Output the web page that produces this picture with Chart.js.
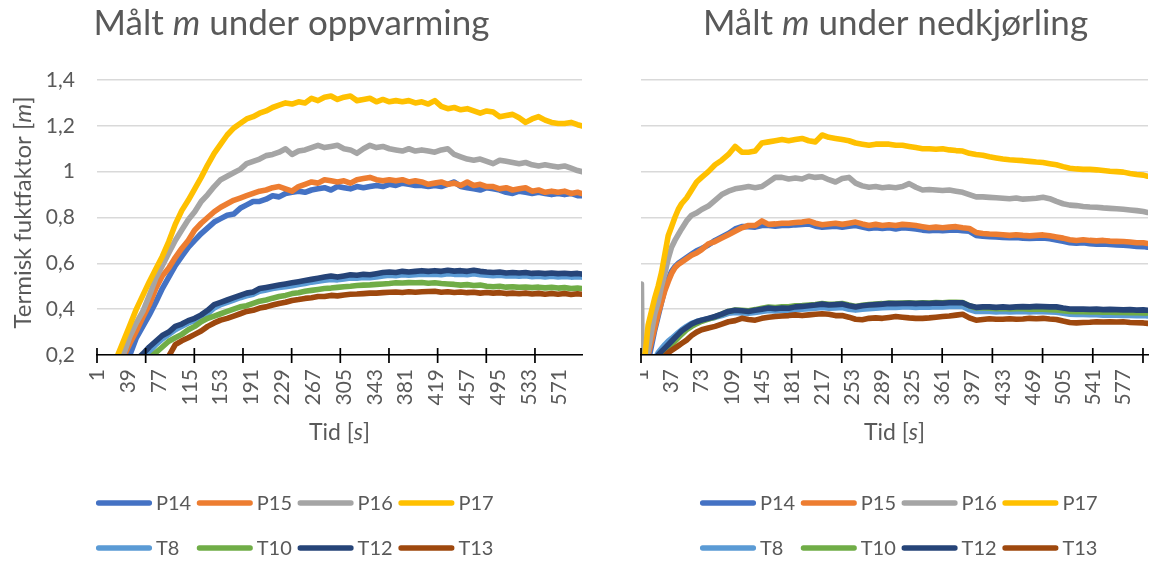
<!DOCTYPE html>
<html>
<head>
<meta charset="utf-8">
<script src="https://cdn.jsdelivr.net/npm/chart.js@4/dist/chart.umd.min.js"></script>
<style>
  html, body { margin: 0; padding: 0; background: #ffffff; }
  body { width: 1151px; height: 561px; position: relative; overflow: hidden; }
  .panel { position: absolute; top: 0; height: 561px; }
  #heatPanel { left: 0; width: 583px; }
  #coolPanel { left: 640px; width: 511px; }
  canvas { display: block; }
</style>
</head>
<body>
<div class="panel" id="heatPanel"><canvas id="heatChart" width="583" height="561"></canvas></div>
<div class="panel" id="coolPanel"><canvas id="coolChart" width="511" height="561"></canvas></div>
<script>
// ---- Series names and colours ----
const seriesNames = ['P14', 'P15', 'P16', 'P17', 'T8', 'T10', 'T12', 'T13'];
const seriesColors = ['#4472C4', '#ED7D31', '#A5A5A5', '#FFC000', '#5B9BD5', '#70AD47', '#264478', '#9E480E'];

// ---- Y axis ----
const yTickValues = [0.2, 0.4, 0.6, 0.8, 1.0, 1.2, 1.4];
const yTickLabels = ['0,2', '0,4', '0,6', '0,8', '1', '1,2', '1,4'];

// ---- Heating: time [s] samples and measured m ----
const heatCount = 598;
const heatXTickLabels = [1, 39, 77, 115, 153, 191, 229, 267, 305, 343, 381, 419, 457, 495, 533, 571];
const heatTickMarks = [0.5, 60.5, 120.5, 180.5, 240.5, 300.5, 360.5, 420.5, 480.5, 540.5];
const heatTime = [
  1, 9, 17, 25, 33, 41, 49, 57, 65, 73,
  81, 89, 97, 105, 113, 121, 129, 137, 145, 153,
  161, 169, 177, 185, 193, 201, 209, 217, 225, 233,
  241, 249, 257, 265, 273, 281, 289, 297, 305, 313,
  321, 329, 337, 345, 353, 361, 369, 377, 385, 393,
  401, 409, 417, 425, 433, 441, 449, 457, 465, 473,
  481, 489, 497, 505, 513, 521, 529, 537, 545, 553,
  561, 569, 577, 585, 593, 598
];
const heatP14 = [
  -0.06, -0.02, 0.03, 0.09, 0.14, 0.20, 0.275, 0.325, 0.375, 0.43,
  0.49, 0.54, 0.59, 0.63, 0.67, 0.70, 0.73, 0.755, 0.78, 0.795,
  0.81, 0.815, 0.84, 0.855, 0.87, 0.87, 0.88, 0.895, 0.89, 0.905,
  0.91, 0.915, 0.91, 0.92, 0.925, 0.93, 0.92, 0.935, 0.93, 0.925,
  0.935, 0.93, 0.935, 0.94, 0.935, 0.945, 0.94, 0.95, 0.945, 0.94,
  0.94, 0.935, 0.94, 0.935, 0.945, 0.955, 0.935, 0.93, 0.925, 0.92,
  0.93, 0.925, 0.92, 0.91, 0.905, 0.915, 0.91, 0.905, 0.91, 0.905,
  0.9, 0.905, 0.9, 0.905, 0.895, 0.895
];
const heatP15 = [
  -0.02, 0.02, 0.07, 0.13, 0.19, 0.25, 0.305, 0.365, 0.42, 0.49,
  0.545, 0.58, 0.625, 0.665, 0.70, 0.745, 0.775, 0.80, 0.825, 0.845,
  0.86, 0.875, 0.885, 0.895, 0.905, 0.915, 0.92, 0.93, 0.935, 0.925,
  0.915, 0.935, 0.945, 0.955, 0.95, 0.965, 0.96, 0.955, 0.96, 0.95,
  0.965, 0.97, 0.975, 0.965, 0.96, 0.965, 0.96, 0.965, 0.955, 0.96,
  0.955, 0.945, 0.95, 0.955, 0.945, 0.95, 0.94, 0.955, 0.94, 0.945,
  0.935, 0.935, 0.925, 0.93, 0.92, 0.925, 0.93, 0.915, 0.92, 0.91,
  0.915, 0.91, 0.915, 0.905, 0.91, 0.905
];
const heatP16 = [
  0.0, 0.03, 0.08, 0.14, 0.20, 0.28, 0.34, 0.39, 0.46, 0.535,
  0.59, 0.645, 0.70, 0.745, 0.79, 0.825, 0.87, 0.90, 0.935, 0.965,
  0.98, 0.995, 1.01, 1.035, 1.045, 1.055, 1.07, 1.075, 1.085, 1.10,
  1.075, 1.09, 1.095, 1.105, 1.115, 1.105, 1.11, 1.115, 1.10, 1.095,
  1.08, 1.10, 1.115, 1.105, 1.11, 1.10, 1.095, 1.09, 1.10, 1.09,
  1.095, 1.09, 1.085, 1.095, 1.10, 1.075, 1.065, 1.055, 1.05, 1.055,
  1.045, 1.035, 1.05, 1.045, 1.04, 1.035, 1.04, 1.03, 1.025, 1.03,
  1.025, 1.02, 1.025, 1.015, 1.005, 1.0
];
const heatP17 = [
  0.02, 0.06, 0.12, 0.19, 0.26, 0.33, 0.40, 0.46, 0.52, 0.575,
  0.63, 0.695, 0.77, 0.83, 0.875, 0.925, 0.975, 1.03, 1.08, 1.12,
  1.16, 1.19, 1.21, 1.23, 1.24, 1.255, 1.265, 1.28, 1.29, 1.30,
  1.295, 1.305, 1.30, 1.32, 1.31, 1.325, 1.33, 1.315, 1.325, 1.33,
  1.31, 1.315, 1.32, 1.305, 1.315, 1.305, 1.31, 1.305, 1.31, 1.30,
  1.305, 1.295, 1.31, 1.285, 1.275, 1.28, 1.27, 1.275, 1.265, 1.255,
  1.265, 1.26, 1.24, 1.245, 1.25, 1.235, 1.215, 1.23, 1.24, 1.225,
  1.215, 1.21, 1.21, 1.215, 1.205, 1.20
];
const heatT8 = [
  -0.02, 0.01, 0.04, 0.07, 0.10, 0.13, 0.16, 0.19, 0.215, 0.245,
  0.27, 0.29, 0.31, 0.325, 0.34, 0.35, 0.365, 0.38, 0.405, 0.42,
  0.43, 0.44, 0.45, 0.458, 0.465, 0.478, 0.484, 0.49, 0.495, 0.498,
  0.502, 0.508, 0.512, 0.518, 0.522, 0.526, 0.53, 0.528, 0.532, 0.536,
  0.535, 0.538, 0.537, 0.54, 0.545, 0.548, 0.546, 0.55, 0.548, 0.55,
  0.553, 0.551, 0.553, 0.55, 0.555, 0.552, 0.553, 0.55, 0.555, 0.55,
  0.548, 0.546, 0.548, 0.545, 0.546, 0.544, 0.546, 0.542, 0.544, 0.541,
  0.544, 0.541, 0.543, 0.54, 0.542, 0.54
];
const heatT10 = [
  -0.05, -0.02, 0.01, 0.04, 0.07, 0.10, 0.13, 0.16, 0.185, 0.21,
  0.235, 0.26, 0.275, 0.29, 0.31, 0.325, 0.345, 0.36, 0.37, 0.38,
  0.39, 0.40, 0.41, 0.415, 0.425, 0.435, 0.44, 0.448, 0.455, 0.46,
  0.468, 0.472, 0.478, 0.482, 0.486, 0.49, 0.492, 0.495, 0.498, 0.5,
  0.503, 0.505, 0.506, 0.508, 0.51, 0.512, 0.515, 0.514, 0.516, 0.515,
  0.516, 0.513, 0.515, 0.512, 0.51, 0.508, 0.505, 0.507, 0.503, 0.505,
  0.5, 0.498, 0.5, 0.496, 0.498, 0.495, 0.497, 0.494, 0.496, 0.493,
  0.495, 0.492, 0.494, 0.49, 0.492, 0.49
];
const heatT12 = [
  0.0, 0.03, 0.06, 0.09, 0.12, 0.15, 0.18, 0.205, 0.235, 0.26,
  0.285, 0.30, 0.325, 0.335, 0.35, 0.36, 0.375, 0.395, 0.42, 0.43,
  0.44, 0.45, 0.46, 0.47, 0.475, 0.49, 0.495, 0.50, 0.505, 0.51,
  0.515, 0.52, 0.525, 0.53, 0.535, 0.54, 0.545, 0.54, 0.545, 0.55,
  0.548, 0.552, 0.55, 0.555, 0.56, 0.562, 0.56, 0.565, 0.562, 0.565,
  0.568, 0.565, 0.568, 0.565, 0.57, 0.566, 0.568, 0.565, 0.57, 0.565,
  0.562, 0.56, 0.562, 0.558, 0.56, 0.558, 0.56, 0.556, 0.558, 0.555,
  0.558, 0.555, 0.557, 0.554, 0.556, 0.553
];
const heatT13 = [
  -0.1, -0.07, -0.04, -0.01, 0.02, 0.05, 0.08, 0.11, 0.13, 0.15,
  0.17, 0.195, 0.245, 0.262, 0.275, 0.29, 0.305, 0.325, 0.34, 0.352,
  0.36, 0.37, 0.38, 0.39, 0.395, 0.405, 0.41, 0.418, 0.425, 0.43,
  0.438, 0.442, 0.447, 0.45, 0.455, 0.455, 0.46, 0.458, 0.462, 0.465,
  0.466, 0.468, 0.47, 0.47, 0.472, 0.474, 0.475, 0.473, 0.476, 0.474,
  0.476, 0.477, 0.478, 0.474, 0.476, 0.473, 0.475, 0.472, 0.474, 0.47,
  0.473, 0.47, 0.472, 0.468, 0.47, 0.467, 0.47, 0.466, 0.469, 0.465,
  0.468, 0.465, 0.468, 0.464, 0.467, 0.465
];

// ---- Cooling: time [s] samples and measured m ----
const coolCount = 606;
const coolXTickLabels = [1, 37, 73, 109, 145, 181, 217, 253, 289, 325, 361, 397, 433, 469, 505, 541, 577];
const coolTickMarks = [0.5, 60.5, 120.5, 180.5, 240.5, 300.5, 360.5, 420.5, 480.5, 540.5, 600.5];
const coolTime = [
  1, 2, 5, 9, 13, 17, 21, 25, 29, 33,
  37, 41, 45, 49, 55, 61, 67, 73, 81, 89,
  97, 105, 113, 121, 129, 137, 145, 153, 161, 169,
  177, 185, 193, 201, 209, 217, 225, 233, 241, 249,
  257, 265, 273, 281, 289, 297, 305, 313, 321, 329,
  337, 345, 353, 361, 369, 377, 385, 393, 401, 409,
  417, 425, 433, 441, 449, 457, 465, 473, 481, 489,
  497, 505, 513, 521, 529, 537, 545, 553, 561, 569,
  577, 585, 593, 601, 606
];
const coolP14 = [
  0.05, 0.05, 0.1, 0.17, 0.24, 0.31, 0.37, 0.43, 0.49, 0.53,
  0.565, 0.585, 0.60, 0.61, 0.625, 0.64, 0.655, 0.665, 0.68, 0.70,
  0.715, 0.73, 0.75, 0.76, 0.76, 0.758, 0.765, 0.765, 0.762, 0.765,
  0.765, 0.768, 0.77, 0.772, 0.762, 0.758, 0.76, 0.762, 0.758, 0.762,
  0.765, 0.758, 0.752, 0.755, 0.752, 0.755, 0.75, 0.755, 0.753, 0.75,
  0.745, 0.742, 0.745, 0.742, 0.745, 0.746, 0.742, 0.74, 0.722, 0.718,
  0.716, 0.715, 0.713, 0.712, 0.713, 0.71, 0.709, 0.71, 0.711, 0.707,
  0.702, 0.696, 0.69, 0.688, 0.69, 0.686, 0.684, 0.685, 0.682, 0.68,
  0.679, 0.677, 0.674, 0.673, 0.67
];
const coolP15 = [
  0.05, 0.05, 0.12, 0.2, 0.26, 0.32, 0.38, 0.43, 0.48, 0.52,
  0.555, 0.58, 0.595, 0.605, 0.62, 0.635, 0.645, 0.66, 0.685, 0.695,
  0.71, 0.725, 0.74, 0.755, 0.765, 0.765, 0.785, 0.77, 0.772, 0.775,
  0.775, 0.778, 0.78, 0.785, 0.775, 0.768, 0.772, 0.775, 0.77, 0.775,
  0.78, 0.772, 0.765, 0.77, 0.765, 0.768, 0.765, 0.77, 0.768, 0.765,
  0.76, 0.755, 0.758, 0.755, 0.758, 0.76, 0.755, 0.752, 0.735, 0.73,
  0.728, 0.727, 0.725, 0.722, 0.725, 0.722, 0.72, 0.722, 0.724, 0.72,
  0.715, 0.71, 0.703, 0.7, 0.703, 0.7, 0.698, 0.7, 0.697, 0.696,
  0.695, 0.693, 0.69, 0.69, 0.687
];
const coolP16 = [
  0.51, 0.1, 0.12, 0.22, 0.30, 0.38, 0.43, 0.50, 0.555, 0.62,
  0.67, 0.70, 0.725, 0.75, 0.785, 0.81, 0.82, 0.835, 0.85, 0.875,
  0.90, 0.915, 0.925, 0.93, 0.935, 0.93, 0.935, 0.955, 0.975, 0.975,
  0.968, 0.972, 0.968, 0.98, 0.975, 0.978, 0.965, 0.955, 0.97, 0.975,
  0.95, 0.938, 0.932, 0.935, 0.93, 0.933, 0.93, 0.935, 0.948, 0.932,
  0.92, 0.922, 0.92, 0.918, 0.92, 0.915, 0.91, 0.90, 0.89, 0.89,
  0.888, 0.886, 0.884, 0.882, 0.885, 0.88, 0.882, 0.884, 0.888, 0.882,
  0.87, 0.86, 0.854, 0.852, 0.848, 0.846, 0.845, 0.842, 0.84, 0.838,
  0.836, 0.833, 0.83, 0.826, 0.822
];
const coolP17 = [
  0.1, 0.1, 0.19, 0.33, 0.39, 0.45, 0.50, 0.56, 0.64, 0.72,
  0.76, 0.80, 0.835, 0.86, 0.885, 0.92, 0.955, 0.975, 1.0, 1.03,
  1.05, 1.075, 1.11, 1.085, 1.085, 1.09, 1.125, 1.13, 1.135, 1.14,
  1.135, 1.14, 1.145, 1.135, 1.13, 1.16, 1.15, 1.145, 1.14, 1.135,
  1.125, 1.12, 1.115, 1.12, 1.12, 1.12, 1.115, 1.115, 1.11, 1.105,
  1.10, 1.10, 1.098, 1.10, 1.095, 1.092, 1.09, 1.08, 1.075, 1.072,
  1.065, 1.06, 1.055, 1.052, 1.05, 1.048, 1.045, 1.042, 1.04, 1.035,
  1.03, 1.022, 1.015, 1.012, 1.01, 1.01, 1.008, 1.005, 1.002, 1.0,
  0.998, 0.992, 0.988, 0.985, 0.98
];
const coolT8 = [
  0.0, 0.0, 0.06, 0.11, 0.15, 0.18, 0.21, 0.228, 0.245, 0.26,
  0.272, 0.285, 0.298, 0.31, 0.325, 0.338, 0.346, 0.352, 0.358, 0.364,
  0.372, 0.382, 0.386, 0.384, 0.382, 0.386, 0.39, 0.394, 0.392, 0.394,
  0.393, 0.398, 0.4, 0.402, 0.404, 0.407, 0.404, 0.405, 0.407, 0.4,
  0.396, 0.4, 0.402, 0.404, 0.406, 0.408, 0.408, 0.41, 0.41, 0.408,
  0.41, 0.409, 0.411, 0.41, 0.412, 0.412, 0.412, 0.398, 0.39, 0.39,
  0.39, 0.388, 0.39, 0.388, 0.389, 0.39, 0.388, 0.39, 0.389, 0.388,
  0.387, 0.382, 0.378, 0.377, 0.377, 0.376, 0.376, 0.374, 0.375, 0.374,
  0.373, 0.373, 0.372, 0.372, 0.37
];
const coolT10 = [
  -0.05, -0.05, 0.0, 0.05, 0.1, 0.14, 0.17, 0.195, 0.215, 0.23,
  0.245, 0.26, 0.275, 0.29, 0.31, 0.325, 0.337, 0.347, 0.357, 0.366,
  0.378, 0.39, 0.396, 0.395, 0.393, 0.398, 0.404, 0.409, 0.407, 0.41,
  0.41, 0.415, 0.416, 0.418, 0.42, 0.425, 0.421, 0.422, 0.425, 0.418,
  0.412, 0.417, 0.42, 0.422, 0.424, 0.427, 0.426, 0.427, 0.428, 0.426,
  0.428, 0.427, 0.429, 0.428, 0.43, 0.43, 0.429, 0.415, 0.405, 0.405,
  0.404, 0.402, 0.403, 0.401, 0.402, 0.402, 0.4, 0.401, 0.4, 0.398,
  0.397, 0.393, 0.39, 0.389, 0.389, 0.388, 0.388, 0.387, 0.387, 0.386,
  0.386, 0.385, 0.385, 0.384, 0.383
];
const coolT12 = [
  0.0, 0.0, 0.05, 0.1, 0.14, 0.17, 0.2, 0.215, 0.23, 0.245,
  0.26, 0.275, 0.29, 0.305, 0.32, 0.335, 0.345, 0.352, 0.36, 0.368,
  0.378, 0.39, 0.395, 0.393, 0.39, 0.395, 0.4, 0.405, 0.402, 0.405,
  0.404, 0.41, 0.412, 0.415, 0.418, 0.422, 0.418, 0.42, 0.422, 0.415,
  0.41, 0.415, 0.418, 0.42, 0.422, 0.425, 0.424, 0.425, 0.426, 0.424,
  0.426, 0.425, 0.427, 0.426, 0.428, 0.428, 0.428, 0.415, 0.408, 0.41,
  0.41, 0.408, 0.41, 0.408, 0.41, 0.411, 0.41, 0.412, 0.411, 0.41,
  0.41, 0.405, 0.401, 0.4, 0.4, 0.399, 0.4, 0.398, 0.399, 0.398,
  0.397, 0.398, 0.396, 0.397, 0.395
];
const coolT13 = [
  -0.05, -0.05, 0.0, 0.05, 0.09, 0.12, 0.15, 0.175, 0.195, 0.21,
  0.22, 0.23, 0.24, 0.25, 0.265, 0.285, 0.3, 0.31, 0.318, 0.325,
  0.335, 0.345, 0.35, 0.36, 0.355, 0.352, 0.36, 0.365, 0.368, 0.37,
  0.372, 0.375, 0.372, 0.375, 0.378, 0.38, 0.378, 0.372, 0.372, 0.365,
  0.356, 0.354, 0.36, 0.362, 0.36, 0.364, 0.368, 0.365, 0.362, 0.36,
  0.36, 0.362, 0.365, 0.368, 0.37, 0.374, 0.378, 0.362, 0.352, 0.355,
  0.358, 0.356, 0.356, 0.358, 0.356, 0.357, 0.36, 0.358, 0.36, 0.357,
  0.355, 0.348, 0.342, 0.34, 0.342, 0.343, 0.345, 0.344, 0.345, 0.344,
  0.345, 0.342, 0.341, 0.34, 0.338
];

// ---- Drawing helpers ----
const FONT_FAMILY = 'Lato, "Open Sans", sans-serif';
const INK = '#595959';

function fontSpec(size, italic) {
  return (italic ? 'italic ' : '') + size + 'px ' + FONT_FAMILY;
}

// Draws a run of text pieces (some italic) centred on cx.
function drawRich(ctx, parts, size, cx, cy) {
  ctx.textAlign = 'left';
  let total = 0;
  const widths = parts.map(p => {
    ctx.font = fontSpec(size, p.italic);
    const w = ctx.measureText(p.text).width;
    total += w;
    return w;
  });
  let x = cx - total / 2;
  parts.forEach((p, i) => {
    ctx.font = fontSpec(size, p.italic);
    ctx.fillText(p.text, x, cy);
    x += widths[i];
  });
}

// Titles, crossing tick marks and the two-row legend.
function makeDecor(cfg) {
  return {
    id: 'decor',
    afterDraw(chart) {
      const ctx = chart.ctx;
      const area = chart.chartArea;
      const xs = chart.scales.x;
      ctx.save();

      ctx.strokeStyle = '#000000';
      ctx.lineWidth = 1.7;
      ctx.beginPath();
      cfg.marks.forEach(v => {
        const px = xs.getPixelForValue(v);
        ctx.moveTo(px, area.bottom - 7);
        ctx.lineTo(px, area.bottom + 8);
      });
      ctx.stroke();

      ctx.fillStyle = INK;
      ctx.textBaseline = 'alphabetic';
      drawRich(ctx, cfg.title, 35, chart.width / 2, 35);
      drawRich(ctx, cfg.xTitle, 23, (area.left + area.right) / 2, 440);

      if (cfg.yTitle) {
        ctx.save();
        ctx.translate(23, (area.top + area.bottom) / 2 - 5);
        ctx.rotate(-Math.PI / 2);
        ctx.textBaseline = 'middle';
        drawRich(ctx, cfg.yTitle, 24, 0, 0);
        ctx.restore();
      }

      const colStep = 100.8;
      const swatch = 56;
      const startX = chart.width / 2 + 3 - 198.5;
      chart.data.datasets.forEach((ds, k) => {
        const x = startX + (k % 4) * colStep;
        const y = k < 4 ? 503 : 548;
        ctx.strokeStyle = ds.borderColor;
        ctx.lineWidth = 5.3;
        ctx.lineCap = 'round';
        ctx.beginPath();
        ctx.moveTo(x + 2.6, y);
        ctx.lineTo(x + swatch - 2.6, y);
        ctx.stroke();
        ctx.fillStyle = INK;
        ctx.font = fontSpec(20, false);
        ctx.textBaseline = 'middle';
        ctx.textAlign = 'left';
        ctx.fillText(ds.label, x + swatch + 4, y + 1);
      });
      ctx.restore();
    }
  };
}

function buildChart(canvasId, cfg) {
  const datasets = seriesNames.map((name, k) => ({
    label: name,
    data: cfg.time.map((t, j) => ({ x: t, y: cfg.values[k][j] })),
    borderColor: seriesColors[k],
    backgroundColor: seriesColors[k],
    borderWidth: 5.6,
    pointRadius: 0,
    tension: 0,
    fill: false,
    borderJoinStyle: 'round',
    borderCapStyle: 'round',
    order: seriesNames.length - k
  }));

  return new Chart(document.getElementById(canvasId), {
    type: 'line',
    data: { datasets },
    plugins: [makeDecor(cfg)],
    options: {
      responsive: false,
      animation: false,
      events: [],
      layout: { padding: cfg.padding },
      plugins: { legend: { display: false }, title: { display: false }, tooltip: { enabled: false } },
      scales: {
        x: {
          type: 'linear',
          min: 0.5,
          max: cfg.count + 0.5,
          afterBuildTicks: s => { s.ticks = cfg.xLabels.map(v => ({ value: v })); },
          afterFit: s => { s.height = 206; s.paddingLeft = 0; s.paddingRight = 0; },
          grid: { display: false, drawTicks: false },
          border: { display: true, color: '#000000', width: 1.5, z: 1 },
          ticks: {
            autoSkip: false,
            minRotation: 90,
            maxRotation: 90,
            padding: 14,
            color: INK,
            font: { family: FONT_FAMILY, size: 21 },
            callback: v => String(v)
          }
        },
        y: {
          min: 0.2,
          max: 1.4,
          afterBuildTicks: s => { s.ticks = yTickValues.map(v => ({ value: v })); },
          afterFit: s => { s.width = cfg.yWidth; s.paddingTop = 0; s.paddingBottom = 0; },
          grid: { color: '#D9D9D9', lineWidth: 1.5, drawTicks: false },
          border: { display: false },
          ticks: {
            display: cfg.showY,
            padding: 22,
            color: INK,
            font: { family: FONT_FAMILY, size: 21 },
            callback: (v, i) => yTickLabels[i]
          }
        }
      }
    }
  });
}

buildChart('heatChart', {
  time: heatTime,
  values: [heatP14, heatP15, heatP16, heatP17, heatT8, heatT10, heatT12, heatT13],
  count: heatCount,
  xLabels: heatXTickLabels,
  marks: heatTickMarks,
  showY: true,
  yWidth: 97,
  padding: { left: 0, right: 1, top: 80, bottom: 0 },
  title: [{ text: 'Målt ', italic: false }, { text: 'm', italic: true }, { text: ' under oppvarming', italic: false }],
  xTitle: [{ text: 'Tid [', italic: false }, { text: 's', italic: true }, { text: ']', italic: false }],
  yTitle: [{ text: 'Termisk fuktfaktor [', italic: false }, { text: 'm', italic: true }, { text: ']', italic: false }]
});

buildChart('coolChart', {
  time: coolTime,
  values: [coolP14, coolP15, coolP16, coolP17, coolT8, coolT10, coolT12, coolT13],
  count: coolCount,
  xLabels: coolXTickLabels,
  marks: coolTickMarks,
  showY: false,
  yWidth: 0,
  padding: { left: 1, right: 3, top: 80, bottom: 0 },
  title: [{ text: 'Målt ', italic: false }, { text: 'm', italic: true }, { text: ' under nedkjørling', italic: false }],
  xTitle: [{ text: 'Tid [', italic: false }, { text: 's', italic: true }, { text: ']', italic: false }],
  yTitle: null
});
</script>
</body>
</html>
